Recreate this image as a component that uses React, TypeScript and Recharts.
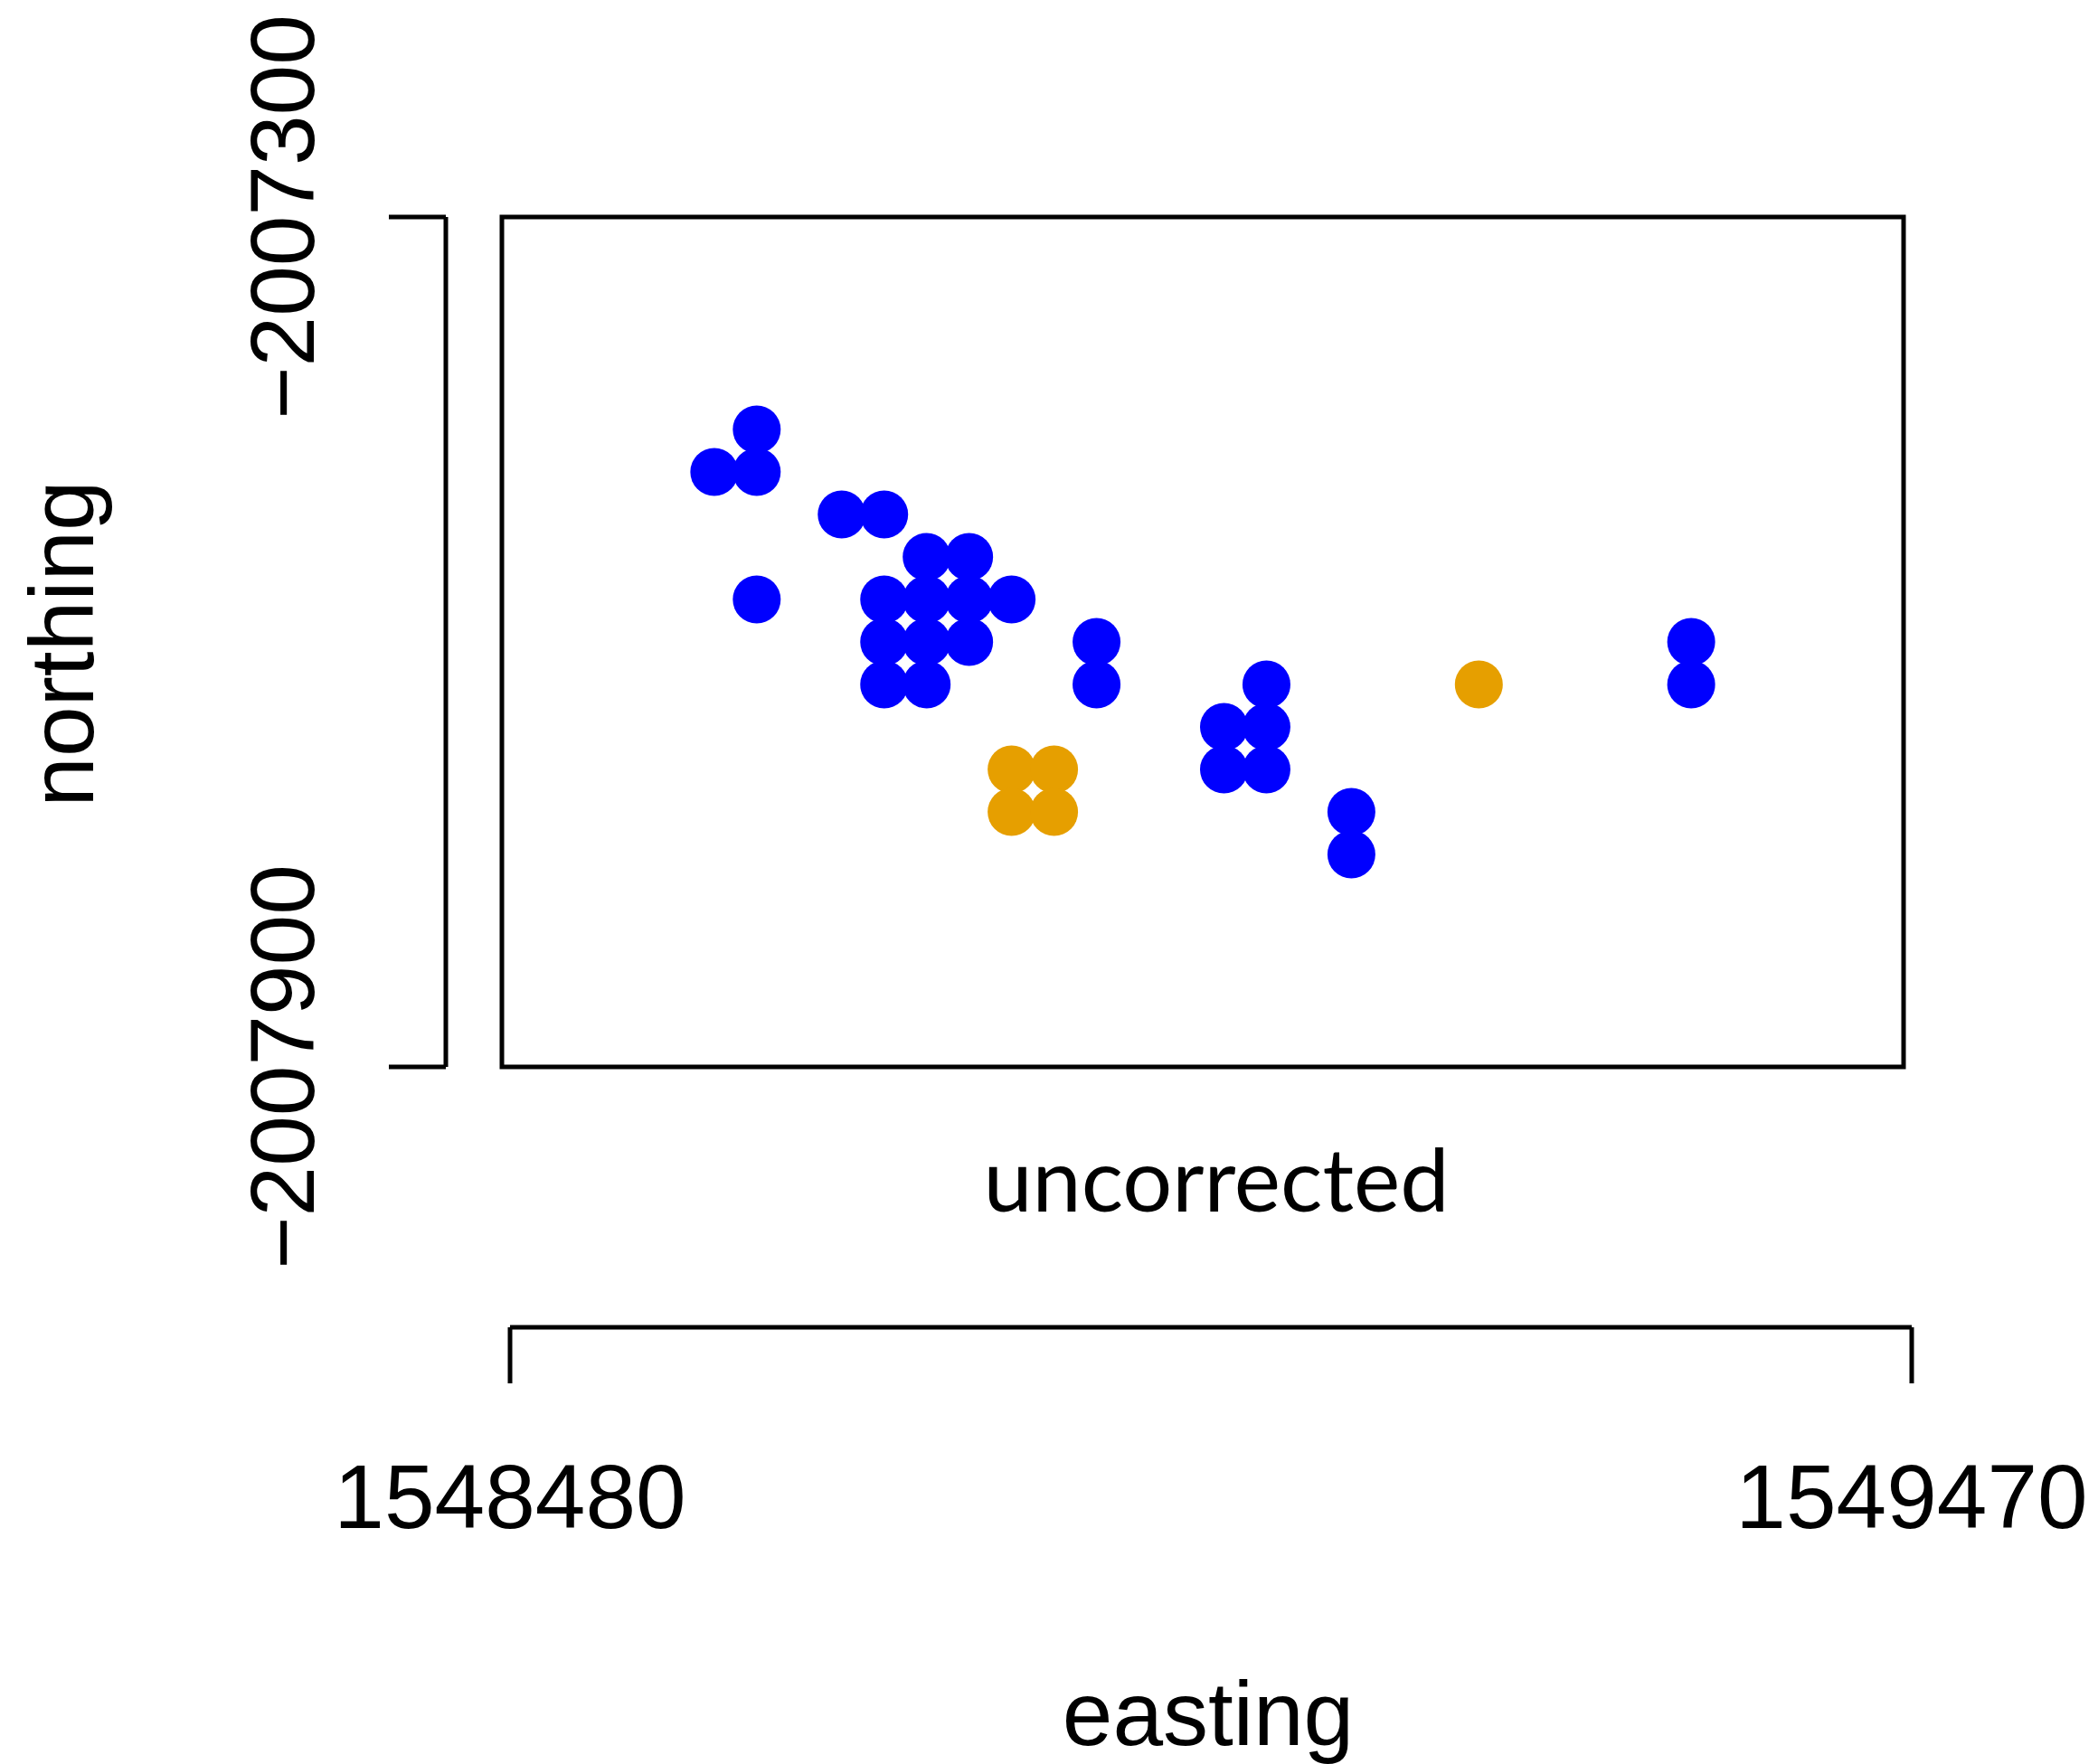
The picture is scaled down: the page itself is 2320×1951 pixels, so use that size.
import { ScatterChart, Scatter, XAxis, YAxis, ReferenceArea } from "recharts";

const eastingTicks = [1548480, 1549470];
const northingTicks = [-2007900, -2007300];

const blueEasting = [
  1548660, 1548630, 1548660, 1548660, 1548720, 1548750, 1548780, 1548810, 1548750, 1548780,
  1548810, 1548840, 1548750, 1548780, 1548810, 1548750, 1548780, 1548900, 1548900, 1549020,
  1548990, 1549020, 1548990, 1549020, 1549080, 1549080, 1549320, 1549320,
];
const blueNorthing = [
  -2007450, -2007480, -2007480, -2007570, -2007510, -2007510, -2007540, -2007540, -2007570, -2007570,
  -2007570, -2007570, -2007600, -2007600, -2007600, -2007630, -2007630, -2007600, -2007630, -2007630,
  -2007660, -2007660, -2007690, -2007690, -2007720, -2007750, -2007600, -2007630,
];
const orangeEasting = [1548840, 1548870, 1548840, 1548870, 1549170];
const orangeNorthing = [-2007690, -2007690, -2007720, -2007720, -2007630];

const toPoints = (xs: number[], ys: number[]) =>
  xs.map((easting, i) => ({ easting, northing: ys[i] }));

const bluePoints = toPoints(blueEasting, blueNorthing);
const orangePoints = toPoints(orangeEasting, orangeNorthing);

const HELV = "'Liberation Sans', Arial, Helvetica, sans-serif";
const fmt = (v: number) => String(v).replace("-", "\u2212");

function NorthingTick({ x, y, payload }: any) {
  return (
    <text x={x} y={y} transform={`rotate(-90, ${x}, ${y})`} textAnchor="middle"
      fontFamily={HELV} fontSize={100} fill="#000">
      {fmt(payload.value)}
    </text>
  );
}

// labels are not moved by the css below, so the x shift goes here
function EastingTick({ x, y, payload }: any) {
  return (
    <text x={x + 9} y={y} textAnchor="middle" fontFamily={HELV} fontSize={100} fill="#000">
      {fmt(payload.value)}
    </text>
  );
}

const dot = (color: string) => (p: any) => <circle cx={p.cx} cy={p.cy} r={26.5} fill={color} />;

// detached axes, R style
const axisCss = `
.recharts-xAxis { transform: translate(9px, 288px); }
.recharts-yAxis { transform: translateX(-62px); }
`;

export default function App() {
  const line = { stroke: "#000", strokeWidth: 5 };
  return (
    <div style={{ position: "absolute", left: 0, top: 0, width: 2320, height: 1951, background: "#fff" }}>
      <style>{axisCss}</style>
      <ScatterChart width={2320} height={1951} margin={{ top: 240, right: 215, left: 355, bottom: 671 }}>
        <XAxis type="number" dataKey="easting" domain={[1548480, 1549470]} ticks={eastingTicks}
          allowDataOverflow height={100} axisLine={line} tickLine={line} tickSize={62} tickMargin={448}
          tick={EastingTick} />
        <YAxis type="number" dataKey="northing" domain={[-2007900, -2007300]} ticks={northingTicks}
          allowDataOverflow width={200} axisLine={line} tickLine={line} tickSize={63} tickMargin={145}
          tick={NorthingTick} />
        <ReferenceArea x1={1548480} x2={1549470} y1={-2007900} y2={-2007300}
          fill="none" fillOpacity={0} stroke="#000" strokeWidth={5} />
        <Scatter data={bluePoints} fill="#0000FF" shape={dot("#0000FF")} isAnimationActive={false} />
        <Scatter data={orangePoints} fill="#E69F00" shape={dot("#E69F00")} isAnimationActive={false} />
        <text x={103} y={712} transform="rotate(-90, 103, 712)" textAnchor="middle"
          fontFamily={HELV} fontSize={100} fill="#000">northing</text>
        <text x={1336} y={1930} textAnchor="middle" fontFamily={HELV} fontSize={100} fill="#000">easting</text>
        <text x={1345} y={1340} textAnchor="middle" fontFamily="Lato, 'Noto Sans', sans-serif"
          fontSize={97} textLength={515} lengthAdjust="spacingAndGlyphs" fill="#000">uncorrected</text>
      </ScatterChart>
    </div>
  );
}
